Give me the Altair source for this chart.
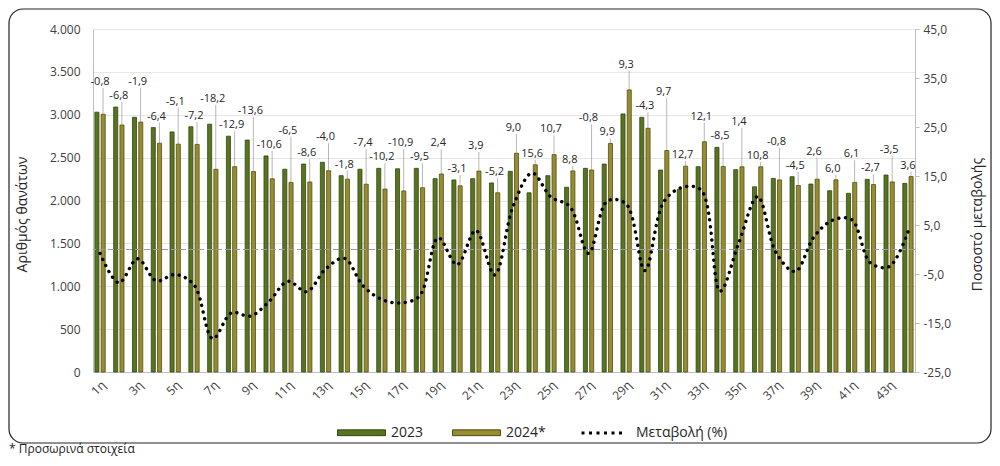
import altair as alt
import pandas as pd

weeks = [f"{i}η" for i in range(1, 45)]
years = ["2023", "2024*"]
v2023 = [3030, 3090, 2970, 2850, 2800, 2860, 2890, 2750, 2705, 2520, 2365, 2425,
         2445, 2290, 2365, 2375, 2370, 2375, 2255, 2240, 2255, 2205, 2340, 2090,
         2290, 2155, 2375, 2425, 3010, 2970, 2355, 2130, 2395, 2620, 2360, 2160,
         2258, 2278, 2192, 2114, 2084, 2247, 2297, 2200]
v2024 = [3006, 2880, 2914, 2668, 2657, 2654, 2364, 2395, 2337, 2253, 2211, 2216,
         2347, 2249, 2190, 2133, 2112, 2149, 2309, 2171, 2343, 2090, 2551, 2416,
         2535, 2345, 2356, 2665, 3290, 2842, 2583, 2400, 2685, 2397, 2393, 2393,
         2240, 2175, 2249, 2241, 2211, 2186, 2217, 2279]
pct = [-0.8, -6.8, -1.9, -6.4, -5.1, -7.2, -18.2, -12.9, -13.6, -10.6, -6.5, -8.6,
       -4.0, -1.8, -7.4, -10.2, -10.9, -9.5, 2.4, -3.1, 3.9, -5.2, 9.0, 15.6,
       10.7, 8.8, -0.8, 9.9, 9.3, -4.3, 9.7, 12.7, 12.1, -8.5, 1.4, 10.8,
       -0.8, -4.5, 2.6, 6.0, 6.1, -2.7, -3.5, 3.6]
left_ticks = [0, 500, 1000, 1500, 2000, 2500, 3000, 3500, 4000]
right_ticks = [-25, -15, -5, 5, 15, 25, 35, 45]
axis_weeks = weeks[::2]
series_name = "Μεταβολή (%)"

FONT = "Open Sans"
TXT = "#404040"

wide = pd.DataFrame({"week": weeks, "v2023": v2023, "v2024": v2024, "pct": pct})
long = pd.DataFrame({"week": weeks * 2,
                     "year": [years[0]] * len(weeks) + [years[1]] * len(weeks),
                     "value": v2023 + v2024})
one = pd.DataFrame({"z": [0]})

xenc = alt.X("week:N", sort=weeks,
             scale=alt.Scale(paddingInner=0.45, paddingOuter=0.1),
             axis=alt.Axis(values=axis_weeks, labelAngle=-45, title=None, ticks=False,
                           domainColor="#bfbfbf", labelFont=FONT, labelFontSize=12,
                           labelColor=TXT, labelPadding=7))

count_scale = alt.Scale(domain=[0, 4000], nice=False)
count_axis = alt.Axis(values=left_ticks, format=",.0f", title="Αριθμός θανάτων",
                      titleX=-71, titleY=185, titleAngle=270, titleBaseline="middle",
                      titleFontWeight="normal", titleFontSize=14, titleFont=FONT,
                      titleColor="#262626", grid=True, gridColor="#e6e6e6",
                      ticks=False, domainColor="#bfbfbf", labelPadding=13,
                      labelFont=FONT, labelFontSize=12, labelColor=TXT)

pct_scale = alt.Scale(domain=[-25, 45], nice=False)
pct_axis = alt.Axis(orient="right", values=right_ticks, format=".1f",
                    title="Ποσοστό μεταβολής", titleX=62, titleY=195, titleAngle=270,
                    titleBaseline="middle", titleFontWeight="normal", titleFontSize=14,
                    titleFont=FONT, titleColor="#262626", grid=False, tickSize=4,
                    tickColor="#bfbfbf", domainColor="#bfbfbf", labelPadding=4,
                    labelFont=FONT, labelFontSize=12, labelColor=TXT)

frame = alt.Chart(one).mark_rect(fillOpacity=0, stroke="#222222", strokeWidth=1.2,
                                  cornerRadius=14).encode(
    x=alt.value(-84), x2=alt.value(898), y=alt.value(-20), y2=alt.value(414))

footnote = alt.Chart(one).mark_text(align="left", baseline="middle", fontSize=12,
                                    font=FONT, color="#222222").encode(
    x=alt.value(-84), y=alt.value(420), text=alt.value("* Προσωρινά στοιχεία"))

label_base = alt.Chart(wide).transform_calculate(
    top="max(datum.v2023, datum.v2024)",
    wk="parseInt(datum.week)",
).transform_window(
    nmax="max(top)", frame=[-1, 1], sort=[alt.SortField("wk")]
).transform_calculate(
    ly="datum.wk % 2 == 1 ? datum.nmax + 165 : datum.top",
)

leaders = label_base.mark_rule(color="#a6a6a6", strokeWidth=0.8, yOffset=-5,
                               xOffset=3).encode(
    x=xenc,
    y=alt.Y("ly:Q", scale=count_scale, axis=count_axis),
    y2="v2024:Q")

bars = alt.Chart(long).mark_bar(strokeWidth=0.8).encode(
    x=xenc,
    xOffset=alt.XOffset("year:N", sort=years, scale=alt.Scale(paddingInner=0.35)),
    y=alt.Y("value:Q", scale=count_scale, axis=count_axis),
    color=alt.Color("year:N", sort=years,
                    scale=alt.Scale(domain=years, range=["#58741f", "#958e30"]),
                    legend=alt.Legend(orient="none", legendX=244, legendY=379,
                                      direction="horizontal", title=None,
                                      symbolType="M-1,-0.12H1V0.12H-1Z", symbolSize=2304,
                                      symbolStrokeWidth=1, labelFontSize=14,
                                      labelFont=FONT, labelColor="#262626",
                                      columnPadding=26, labelOffset=5)),
    stroke=alt.Stroke("year:N", sort=years,
                      scale=alt.Scale(domain=years, range=["#344611", "#564c14"]),
                      legend=None),
)

labels = label_base.mark_text(dy=-11, fontSize=11, font=FONT, color="#262626").encode(
    x=xenc,
    y=alt.Y("ly:Q", scale=count_scale, axis=count_axis),
    text=alt.Text("pct:Q", format=".1f"))

count_group = alt.layer(frame, footnote, leaders, bars, labels)

zero = alt.Chart(one).mark_rule(strokeDash=[6, 3], color="#9a9ab4", strokeWidth=1).encode(
    y=alt.Y("z:Q", scale=pct_scale, axis=pct_axis))

line = alt.Chart(wide).mark_line(interpolate="catmull-rom", color="black",
                                 strokeWidth=3.4, strokeCap="round",
                                 strokeDash=[0.1, 6.6]).encode(
    x=xenc,
    y=alt.Y("pct:Q", scale=pct_scale, axis=pct_axis),
)

line_key = alt.Chart(wide).transform_calculate(
    series=f"'{series_name}'"
).transform_filter("false").mark_line(color="black", strokeWidth=3).encode(
    x=xenc,
    y=alt.Y("pct:Q", scale=pct_scale, axis=pct_axis),
    strokeDash=alt.StrokeDash("series:N",
                              scale=alt.Scale(domain=[series_name], range=[[3, 4.5]]),
                              legend=alt.Legend(orient="none", legendX=487, legendY=380,
                                                title=None, symbolType="stroke",
                                                symbolSize=2025, symbolStrokeWidth=3,
                                                symbolStrokeColor="black",
                                                labelFontSize=14, labelFont=FONT,
                                                labelColor="#262626", labelOffset=8)),
)

pct_group = alt.layer(zero, line, line_key)

chart = alt.layer(count_group, pct_group).resolve_scale(
    y="independent", color="independent", stroke="independent", strokeDash="independent"
).properties(
    width=822, height=343,
    padding={"left": 85, "top": 21, "right": 77, "bottom": 86},
    autosize=alt.AutoSizeParams(type="none"),
).configure(
    locale={"number": {"decimal": ",", "thousands": ".", "grouping": [3],
                       "currency": ["", " €"], "minus": "-"}},
    font=FONT,
).configure_view(stroke=None)

chart.save("out.html", embed_options={"renderer": "svg", "actions": False})
